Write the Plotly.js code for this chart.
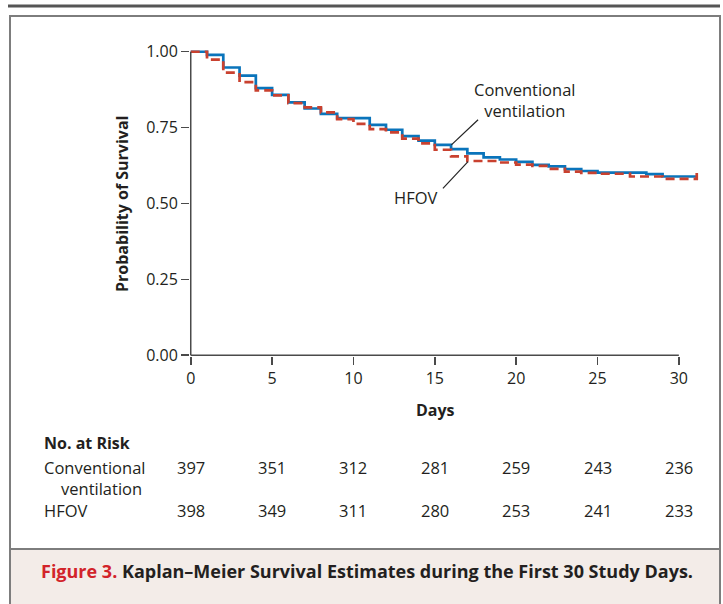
<!DOCTYPE html>
<html><head><meta charset="utf-8">
<script src="https://cdn.plot.ly/plotly-3.0.1.min.js"></script>
<style>html,body{margin:0;padding:0;background:#fff;}#chart{width:723px;height:604px;}</style>
</head><body><div id="chart"></div>
<script>
// Kaplan–Meier step data (day, survival after step)
const convDays = [0,1,2,3,4,5,6,7,8,9,11,12,13,14,15,16,17,18,19,20,21,22,23,24,25,28,29,31.1];
const convSurv = [1.0,0.990,0.948,0.921,0.880,0.858,0.833,0.813,0.795,0.781,0.759,0.743,0.722,0.707,0.693,0.679,0.665,0.652,0.645,0.637,0.627,0.622,0.613,0.607,0.602,0.597,0.589,0.589];
const hfovDays = [0,1,2,3,4,5,6,7,8,9,10,11,12,13,14,15,16,17,19,20,21,22,23,24,25,27,29,31.1,31.1];
const hfovSurv = [1.0,0.974,0.931,0.900,0.873,0.856,0.831,0.817,0.800,0.778,0.762,0.745,0.734,0.714,0.698,0.677,0.655,0.640,0.635,0.628,0.624,0.614,0.605,0.601,0.598,0.589,0.581,0.581,0.605];

const seriesNames = ['Conventional ventilation','HFOV'];
const riskDays = [0,5,10,15,20,25,30];
const riskConv = [397,351,312,281,259,243,236];
const riskHfov = [398,349,311,280,253,241,233];
const xTickVals = [0,5,10,15,20,25,30];
const yTickVals = [0,0.25,0.5,0.75,1];
const yTickText = ['0.00','0.25','0.50','0.75','1.00'];

const FONT = '"Open Sans", "Noto Sans", sans-serif';
const TXT = '#231f20';
const AX = '#4a4a4a';

// plot area geometry (pixels)
const M = {l:190, r:24, t:44, b:248};
const PW = 723 - M.l - M.r, PH = 604 - M.t - M.b;
const xr = [-0.046, -0.046 + PW/16.27];
const yr = [-0.0025, -0.0025 + PH/303.5];
const X = px => (px - M.l)/PW;           // pixel -> paper
const Y = py => (M.t + PH - py)/PH;
const xp = d => (d - xr[0])/(xr[1]-xr[0]); // data -> paper
const yp = v => (v - yr[0])/(yr[1]-yr[0]);

const traces = [
  {x: convDays, y: convSurv, name: seriesNames[0], type:'scatter', mode:'lines',
   line:{shape:'hv', color:'#0a74bb', width:2.7}},
  {x: hfovDays, y: hfovSurv, name: seriesNames[1], type:'scatter', mode:'lines',
   line:{shape:'hv', color:'#c9412f', width:2.7, dash:'9px,5px'}}
];

const shapes = [
  // top rule
  {type:'line', xref:'paper', yref:'paper', x0:X(8), x1:X(720), y0:Y(6), y1:Y(6), line:{color:'#555', width:3}, layer:'below'},
  // caption background
  {type:'rect', xref:'paper', yref:'paper', x0:X(10), x1:X(720), y0:Y(549), y1:Y(606), fillcolor:'#f3ece8', line:{width:0}, layer:'below'},
  {type:'line', xref:'paper', yref:'paper', x0:X(10), x1:X(720), y0:Y(549), y1:Y(549), line:{color:'#7d7d7d', width:2}, layer:'below'},
  // frame
  {type:'rect', xref:'paper', yref:'paper', x0:X(10), x1:X(720), y0:Y(16), y1:Y(608), line:{color:'#7d7d7d', width:2}, layer:'below'},
  // axis lines
  {type:'line', xref:'paper', yref:'paper', x0:xp(0), x1:xp(0), y0:yp(0), y1:yp(1), line:{color:AX, width:1.5}},
  {type:'line', xref:'paper', yref:'paper', x0:xp(0), x1:xp(30), y0:yp(0), y1:yp(0), line:{color:AX, width:1.5}},
  // label leader lines
  {type:'line', xref:'x', yref:'y', x0:16.02, y0:0.693, x1:17.66, y1:0.776, line:{color:'#222', width:1.2}},
  {type:'line', xref:'x', yref:'y', x0:15.5, y0:0.550, x1:17.04, y1:0.638, line:{color:'#222', width:1.2}}
];

const ann = [];
const F = size => ({family: FONT, size: size, color: TXT});
const S = 16.5;
ann.push({xref:'paper', yref:'paper', x:X(525), y:Y(100), text:'Conventional<br>ventilation', showarrow:false, font:F(S), xanchor:'center', yanchor:'middle', align:'center'});
ann.push({xref:'paper', yref:'paper', x:X(416), y:Y(197), text:'HFOV', showarrow:false, font:F(S), xanchor:'center', yanchor:'middle'});
ann.push({xref:'paper', yref:'paper', x:X(122), y:Y(204), text:'<b>Probability of Survival</b>', textangle:-90, showarrow:false, font:F(16), xanchor:'center', yanchor:'middle'});
ann.push({xref:'paper', yref:'paper', x:X(435), y:Y(410), text:'<b>Days</b>', showarrow:false, font:F(16), xanchor:'center', yanchor:'middle'});
ann.push({xref:'paper', yref:'paper', x:X(42), y:Y(443), text:'<b>No. at Risk</b>', showarrow:false, font:F(16), xanchor:'left', yanchor:'middle'});
ann.push({xref:'paper', yref:'paper', x:X(42), y:Y(467), text:'Conventional', showarrow:false, font:F(S), xanchor:'left', yanchor:'middle'});
ann.push({xref:'paper', yref:'paper', x:X(59), y:Y(488), text:'ventilation', showarrow:false, font:F(S), xanchor:'left', yanchor:'middle'});
ann.push({xref:'paper', yref:'paper', x:X(42), y:Y(510), text:'HFOV', showarrow:false, font:F(S), xanchor:'left', yanchor:'middle'});
riskDays.forEach((d,i) => {
  ann.push({xref:'x', yref:'paper', x:d, y:Y(467), text:String(riskConv[i]), showarrow:false, font:F(S), xanchor:'center', yanchor:'middle'});
  ann.push({xref:'x', yref:'paper', x:d, y:Y(510), text:String(riskHfov[i]), showarrow:false, font:F(S), xanchor:'center', yanchor:'middle'});
});
ann.push({xref:'paper', yref:'paper', x:X(39), y:Y(571), text:'<b><span style="color:#d2232a">Figure 3.</span> Kaplan–Meier Survival Estimates during the First 30 Study Days.</b>', showarrow:false, font:F(18), xanchor:'left', yanchor:'middle'});

const layout = {
  width:723, height:604, margin:M, showlegend:false,
  paper_bgcolor:'#ffffff', plot_bgcolor:'rgba(0,0,0,0)',
  font:{family:FONT, size:16, color:TXT},
  xaxis:{range:xr, tickvals:xTickVals, ticks:'outside', ticklen:8, tickwidth:1.5, tickcolor:AX,
         showline:false, showgrid:false, zeroline:false, tickfont:{family:FONT, size:16, color:TXT}},
  yaxis:{range:yr, tickvals:yTickVals, ticktext:yTickText, ticks:'outside', ticklen:8, tickwidth:1.5, tickcolor:AX,
         showline:false, showgrid:false, zeroline:false, tickfont:{family:FONT, size:16, color:TXT}},
  shapes:shapes, annotations:ann
};
Plotly.newPlot('chart', traces, layout, {displayModeBar:false, staticPlot:true});
</script></body></html>
